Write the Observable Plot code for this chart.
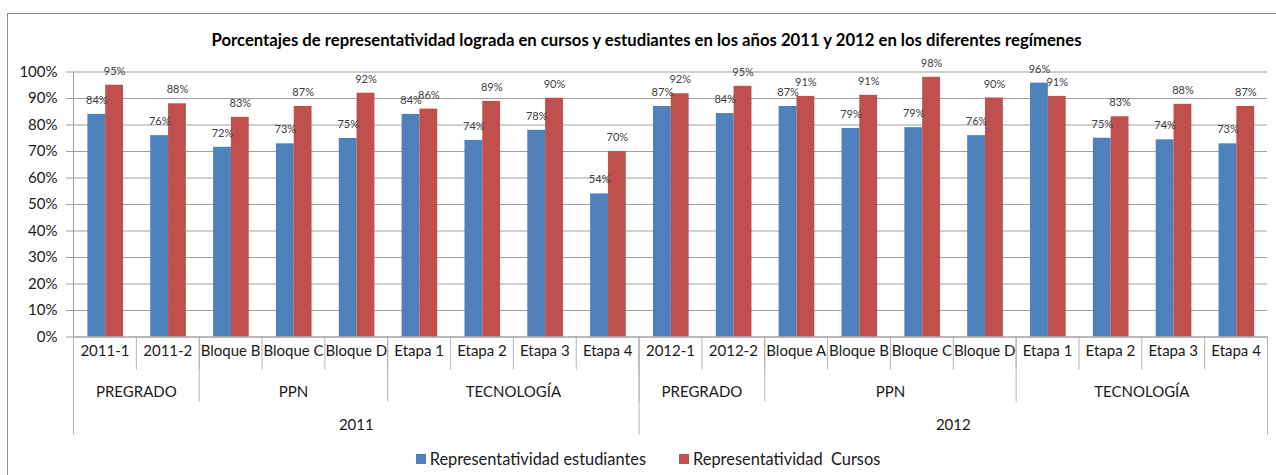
<!DOCTYPE html>
<html>
<head>
<meta charset="utf-8">
<script src="https://cdn.jsdelivr.net/npm/d3@7"></script>
<script src="https://cdn.jsdelivr.net/npm/@observablehq/plot@0.6"></script>
<style>
  html, body { margin: 0; padding: 0; background: #fff; width: 1276px; height: 475px; overflow: hidden; }
  #frame { position: absolute; left: 7px; top: 13px; width: 1320px; height: 520px; border: 1.5px solid #8c8c8c; box-sizing: border-box; pointer-events: none; }
  #wrap { position: relative; width: 1276px; font-family: Lato, "Open Sans", sans-serif; color: #000; }
  #title { height: 60px; box-sizing: border-box; padding-top: 30px; padding-left: 17px; line-height: 20px; font-size: 16.7px; font-weight: bold; text-align: center; white-space: nowrap; }
  #chart svg { display: block; overflow: visible; }
  #legend { height: 30px; box-sizing: border-box; padding-top: 3px; padding-left: 20px; line-height: 20px; font-size: 16.4px; text-align: center; white-space: nowrap; color: #1a1a1a; }
  .item { display: inline-flex; align-items: center; margin: 0 16.5px; }
  .sw { display: inline-block; width: 10px; height: 10px; margin-right: 4px; }
</style>
</head>
<body>
<div id="wrap">
  <div id="title"></div>
  <div id="chart"></div>
  <div id="legend"></div>
</div>
<div id="frame"></div>
<script>
// ---- data ----
const titleText = "Porcentajes de representatividad lograda en cursos y estudiantes en los años 2011 y 2012 en los diferentes regímenes";
const categories = ["2011-1", "2011-2", "Bloque B", "Bloque C", "Bloque D", "Etapa 1", "Etapa 2", "Etapa 3", "Etapa 4",
                    "2012-1", "2012-2", "Bloque A", "Bloque B", "Bloque C", "Bloque D", "Etapa 1", "Etapa 2", "Etapa 3", "Etapa 4"];
const regimes = ["PREGRADO", "PREGRADO", "PPN", "PPN", "PPN", "TECNOLOGÍA", "TECNOLOGÍA", "TECNOLOGÍA", "TECNOLOGÍA",
                 "PREGRADO", "PREGRADO", "PPN", "PPN", "PPN", "PPN", "TECNOLOGÍA", "TECNOLOGÍA", "TECNOLOGÍA", "TECNOLOGÍA"];
const years = ["2011", "2011", "2011", "2011", "2011", "2011", "2011", "2011", "2011",
               "2012", "2012", "2012", "2012", "2012", "2012", "2012", "2012", "2012", "2012"];
const estudiantes = [84, 76, 71.6, 72.9, 74.9, 84, 74.2, 78, 54, 87, 84.3, 87, 78.7, 79, 76, 95.8, 75, 74.4, 72.9];
const cursos      = [95, 88, 82.9, 87, 92, 86, 88.9, 90.1, 70, 91.8, 94.6, 90.8, 91.2, 98, 90.2, 90.8, 83.1, 87.8, 87];
const seriesNames = ["Representatividad estudiantes", "Representatividad  Cursos"];
const seriesColors = ["#4F81BD", "#C0504D"];
const yTicks = [0, 10, 20, 30, 40, 50, 60, 70, 80, 90, 100];

// ---- derived tables ----
const table = categories.map((c, i) => ({i, cat: c, est: estudiantes[i], cur: cursos[i]}));
function runs(arr) {
  const out = [];
  arr.forEach((v, i) => {
    if (out.length && out[out.length - 1].label === v && out[out.length - 1].end === i) out[out.length - 1].end = i + 1;
    else out.push({label: v, start: i, end: i + 1});
  });
  return out;
}
const regimeRuns = runs(regimes.map((r, i) => years[i] + "|" + r)).map(d => ({...d, label: d.label.split("|")[1]}));
const yearRuns = runs(years);
const catBounds = d3.range(0, categories.length + 1);
const regimeBounds = [0, ...regimeRuns.map(d => d.end)];
const yearBounds = [0, ...yearRuns.map(d => d.end)];

document.getElementById("title").textContent = titleText;

const gridColor = "#a0a0a0";
const sepColor = "#b4b4b4";
const n = categories.length;

const chart = Plot.plot({
  width: 1276,
  height: 385,
  marginTop: 11.5,
  marginBottom: 108.5,
  marginLeft: 73,
  marginRight: 9,
  x: {domain: [0, n], axis: null},
  y: {domain: [0, 100], axis: null},
  style: {fontFamily: "Lato, 'Open Sans', sans-serif", fontSize: "15px", color: "#000", background: "transparent", overflow: "visible"},
  marks: [
    Plot.gridY(yTicks, {stroke: gridColor, strokeOpacity: 1}),
    Plot.axisY(yTicks, {tickSize: 7, tickPadding: 9, tickFormat: d => d + "%", stroke: gridColor, fill: "#1a1a1a", fontSize: 15}),
    Plot.ruleX([0], {stroke: gridColor}),
    Plot.rectY(table, {x1: "i", x2: d => d.i + 1, y: "est", fill: seriesColors[0], insetLeft: 14.4, insetRight: 30.6}),
    Plot.rectY(table, {x1: "i", x2: d => d.i + 1, y: "cur", fill: seriesColors[1], insetLeft: 32.2, insetRight: 12.8}),
    Plot.text(table, {x: d => d.i + 0.5, y: "est", dx: -8.1, dy: -14, text: d => Math.round(d.est) + "%", fontSize: 11, fill: "#404040"}),
    Plot.text(table, {x: d => d.i + 0.5, y: "cur", dx: 9.7, dy: -14, text: d => Math.round(d.cur) + "%", fontSize: 11, fill: "#404040"}),
    // hierarchical category axis
    Plot.ruleX(catBounds, {x: d => d, y1: 0, y2: 0, insetBottom: -33, stroke: sepColor}),
    Plot.ruleX(regimeBounds, {x: d => d, y1: 0, y2: 0, insetBottom: -65, stroke: sepColor}),
    Plot.ruleX(yearBounds, {x: d => d, y1: 0, y2: 0, insetBottom: -98, stroke: sepColor}),
    Plot.ruleY([0], {stroke: gridColor}),
    Plot.text(table, {x: d => d.i + 0.5, y: 0, dy: 14, text: "cat", fill: "#1a1a1a"}),
    Plot.text(regimeRuns, {x: d => (d.start + d.end) / 2, y: 0, dy: 55, text: "label", fill: "#1a1a1a"}),
    Plot.text(yearRuns, {x: d => (d.start + d.end) / 2, y: 0, dy: 88, text: "label", fill: "#1a1a1a"})
  ]
});
document.getElementById("chart").appendChild(chart);

const legend = document.getElementById("legend");
seriesNames.forEach((name, k) => {
  const item = document.createElement("span");
  item.className = "item";
  const sw = document.createElement("span");
  sw.className = "sw";
  sw.style.background = seriesColors[k];
  item.appendChild(sw);
  const t = document.createElement("span");
  t.textContent = name;
  t.style.whiteSpace = "pre";
  item.appendChild(t);
  legend.appendChild(item);
});
</script>
</body>
</html>
